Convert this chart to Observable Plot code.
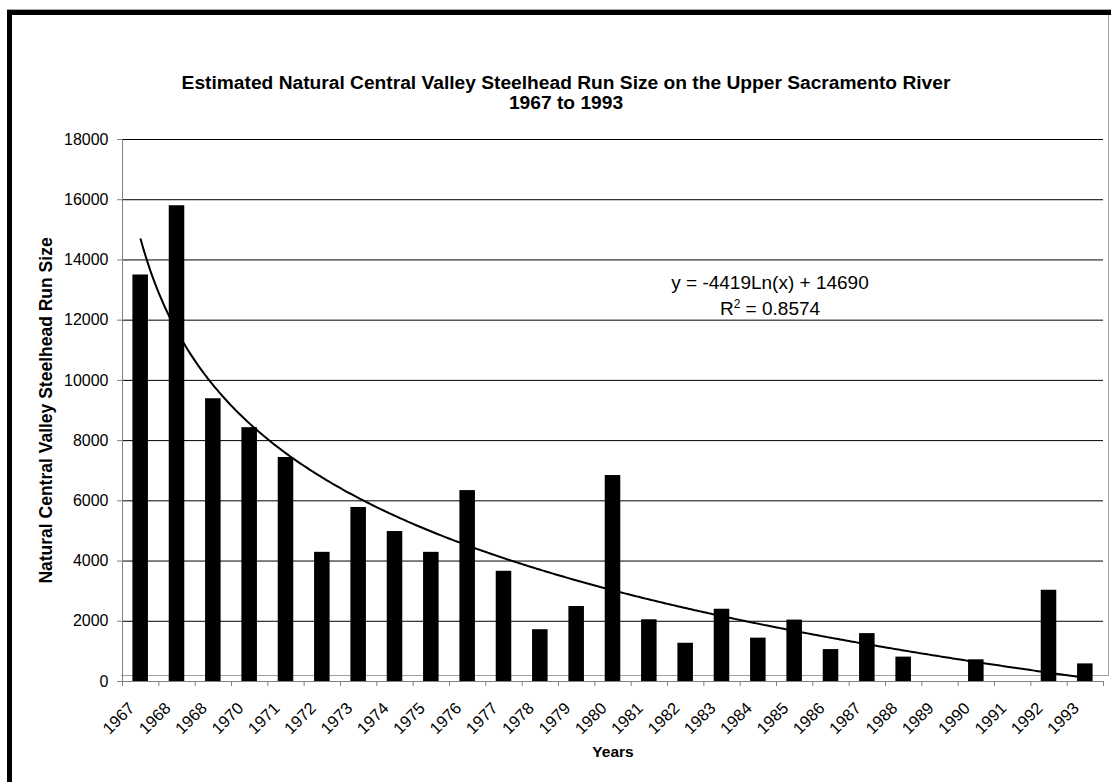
<!DOCTYPE html>
<html>
<head>
<meta charset="utf-8">
<script src="https://cdn.jsdelivr.net/npm/d3@7"></script>
<script src="https://cdn.jsdelivr.net/npm/@observablehq/plot@0.6"></script>
<style>
  html, body { margin: 0; padding: 0; background: #fff; }
  #wrap { position: relative; width: 1111px; height: 782px; overflow: hidden; font-family: "Liberation Sans", Arial, sans-serif; }
  .abs { position: absolute; }
  #grayTop { left: 7px; top: 9px; width: 1110px; height: 0; border-top: 1px solid #a6a6a6; }
  #frame { left: 7px; top: 10px; width: 1200px; height: 900px; border-left: 5px solid #000; border-top: 5px solid #000; }
  #grayBox { left: 121px; top: 15px; width: 987px; height: 660px; border-right: 1px solid #a0a0a0; border-bottom: 1px solid #a0a0a0; }
  #title { left: 12px; width: 1108px; top: 73px; text-align: center; font-weight: bold; font-size: 19.2px; line-height: 20px; color: #000; }
  #eq { left: 620px; width: 300px; top: 270px; text-align: center; font-size: 19px; line-height: 26px; color: #000; }
  #eq sup { font-size: 12px; vertical-align: 7px; line-height: 0; }
  svg { position: absolute; left: 0; top: 0; }
</style>
</head>
<body>
<div id="wrap">
  <div id="grayTop" class="abs"></div>
  <div id="frame" class="abs"></div>
  <div id="grayBox" class="abs"></div>
</div>
<script>
// ---- data ----
const titleLines = ["Estimated Natural Central Valley Steelhead Run Size on the Upper Sacramento River", "1967 to 1993"];
const yLabel = "Natural Central Valley Steelhead Run Size";
const xLabel = "Years";
const years = ["1967","1968","1968","1970","1971","1972","1973","1974","1975","1976","1977","1978","1979","1980","1981","1982","1983","1984","1985","1986","1987","1988","1989","1990","1991","1992","1993"];
const runSize = [13500, 15800, 9390, 8430, 7440, 4290, 5780, 4980, 4290, 6340, 3660, 1720, 2490, 6840, 2050, 1270, 2400, 1440, 2040, 1060, 1590, 810, 0, 720, 0, 3030, 585];
const yTicks = [0, 2000, 4000, 6000, 8000, 10000, 12000, 14000, 16000, 18000];
const trendSlope = -4419;
const trendIntercept = 14690;
const rSquared = "0.8574";

// ---- derived tables ----
const bars = years.map((label, k) => ({i: k + 1, label, value: runSize[k]}));
const centers = bars.map(d => d.i);
const boundaries = d3.range(0, years.length + 1).map(k => k + 0.5);
const trend = d3.range(1, years.length + 0.0001, 0.05).map(x => ({x, y: trendSlope * Math.log(x) + trendIntercept}));

const chart = Plot.plot({
  width: 1111,
  height: 782,
  marginLeft: 122,
  marginRight: 8,
  marginTop: 139,
  marginBottom: 101,
  style: {fontFamily: "'Liberation Sans', Arial, sans-serif", background: "transparent", color: "#000"},
  x: {type: "linear", domain: [0.5, years.length + 0.5]},
  y: {domain: [0, 18000]},
  marks: [
    Plot.ruleY(yTicks.slice(1), {stroke: "#000", strokeWidth: 1}),
    Plot.rectY(bars, {x1: d => d.i - 0.5, x2: d => d.i + 0.5, y: "value", fill: "#000", insetLeft: 10.4, insetRight: 10.4}),
    Plot.line(trend, {x: "x", y: "y", stroke: "#000", strokeWidth: 2}),
    Plot.ruleY([0], {stroke: "#808080", strokeWidth: 1}),
    Plot.ruleX([0.5], {stroke: "#808080", strokeWidth: 1}),
    Plot.axisY({ticks: yTicks, tickSize: 5, tickPadding: 9, fontSize: 16, tickFormat: d => String(d), label: null, stroke: "#808080"}),
    Plot.axisX({ticks: boundaries, tickSize: 5, tickFormat: () => "", label: null, stroke: "#808080"}),
    Plot.axisX({ticks: centers, tickSize: 0, tickRotate: -45, tickPadding: 24, dx: -9, fontSize: 16.5, tickFormat: i => years[i - 1], label: null}),
    Plot.text([yLabel], {frameAnchor: "left", textAnchor: "middle", dx: -76, rotate: -90, fontWeight: "bold", fontSize: 17.5, fill: "#000"}),
    Plot.text([xLabel], {frameAnchor: "bottom", dy: 75, fontWeight: "bold", fontSize: 15.5, fill: "#000"})
  ]
});

const wrap = document.getElementById("wrap");
wrap.appendChild(chart);

const title = document.createElement("div");
title.id = "title";
title.className = "abs";
title.innerHTML = titleLines.join("<br>");
wrap.appendChild(title);

const eq = document.createElement("div");
eq.id = "eq";
eq.className = "abs";
eq.innerHTML = `y = ${trendSlope}Ln(x) + ${trendIntercept}<br>R<sup>2</sup> = ${rSquared}`;
wrap.appendChild(eq);
</script>
</body>
</html>
